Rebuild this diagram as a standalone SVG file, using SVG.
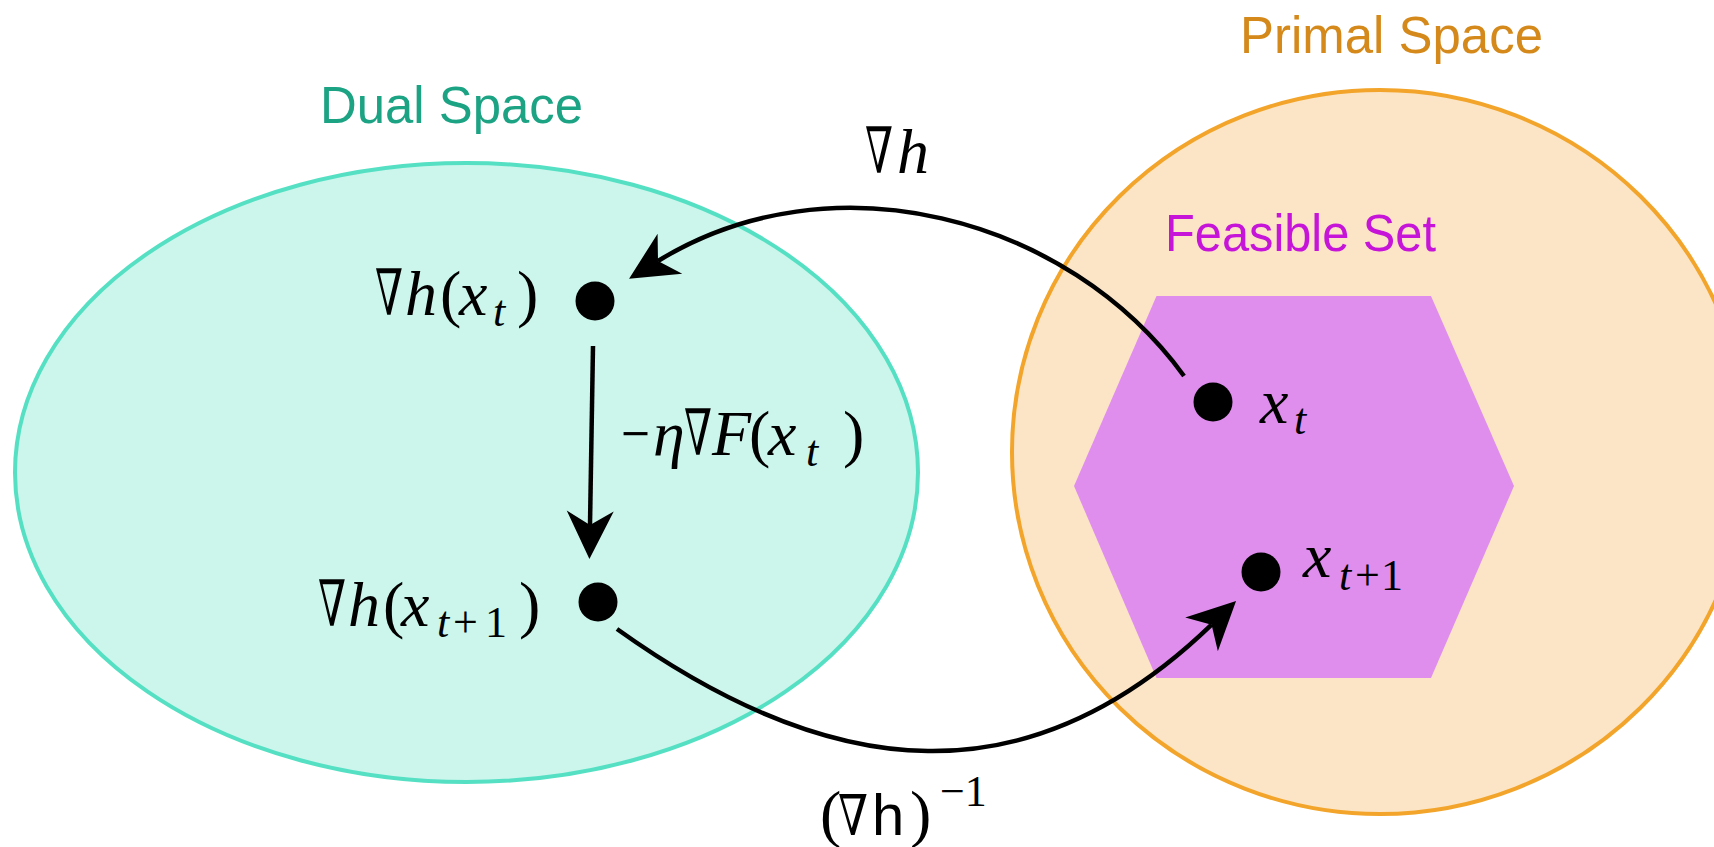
<svg xmlns="http://www.w3.org/2000/svg" width="1714" height="847" viewBox="0 0 1714 847">
<style>
.sans{font-family:"Liberation Sans","DejaVu Sans",sans-serif;font-size:52px}
.m{font-family:"Liberation Serif","DejaVu Serif",serif;font-size:64px;fill:#000}
.i{font-style:italic}
.sub{font-size:44px}
.dot{fill:#000}
.conn{fill:none;stroke:#000;stroke-width:4.5}
</style>
<defs>
<marker id="ah" markerUnits="userSpaceOnUse" markerWidth="60" markerHeight="60" viewBox="-20 -30 60 60" refX="0" refY="0" orient="auto" overflow="visible">
<path d="M34,0 L-14,-23.5 L0,0 L-14,23.5 Z" fill="#000"/>
</marker>
</defs>
<rect width="1714" height="847" fill="#fff"/>
<g id="dual-space">
<ellipse cx="466.5" cy="472.5" rx="451.5" ry="309.5" fill="#CCF6EC" stroke="#55E0C4" stroke-width="4"/>
<text class="sans" x="320" y="123" fill="#1BA384" textLength="263" lengthAdjust="spacingAndGlyphs">Dual Space</text>
</g>
<g id="primal-space">
<ellipse cx="1380" cy="452" rx="368" ry="362" fill="#FCE5C6" stroke="#F2A52A" stroke-width="4"/>
<text class="sans" x="1240" y="53" fill="#D4891A" textLength="303" lengthAdjust="spacingAndGlyphs">Primal Space</text>
</g>
<g id="feasible-set">
<polygon points="1156.5,296 1431,296 1514,486 1431,678 1156.5,678 1074,486" fill="#E08EEE"/>
<text class="sans" x="1165" y="251" fill="#C614D9" textLength="271" lengthAdjust="spacingAndGlyphs">Feasible Set</text>
</g>
<g id="node-grad-xt">
<circle class="dot" cx="595" cy="301" r="19.5"/>
<text class="m" x="375" y="315" textLength="28" lengthAdjust="spacingAndGlyphs">∇</text>
<text class="m" y="315"><tspan class="i" x="405">h</tspan><tspan x="440">(</tspan><tspan class="i" x="459">x</tspan><tspan class="i sub" x="493" y="326">t</tspan><tspan x="517" y="315">)</tspan></text>
</g>
<g id="node-grad-xt1">
<circle class="dot" cx="598" cy="602" r="19.5"/>
<text class="m" x="318" y="626" textLength="28" lengthAdjust="spacingAndGlyphs">∇</text>
<text class="m" y="626"><tspan class="i" x="348">h</tspan><tspan x="383">(</tspan><tspan class="i" x="401">x</tspan><tspan class="i sub" x="437" y="637">t</tspan><tspan class="sub" x="453" y="637">+</tspan><tspan class="sub" x="485" y="637">1</tspan><tspan x="519" y="626">)</tspan></text>
</g>
<g id="node-xt">
<circle class="dot" cx="1213" cy="402" r="19.5"/>
<text class="m" y="423"><tspan class="i" x="1260">x</tspan><tspan class="i sub" x="1294" y="434">t</tspan></text>
</g>
<g id="node-xt1">
<circle class="dot" cx="1261" cy="572" r="19.5"/>
<text class="m" y="577"><tspan class="i" x="1303">x</tspan><tspan class="i sub" x="1339" y="590">t</tspan><tspan class="sub" x="1355" y="590">+</tspan><tspan class="sub" x="1381" y="590">1</tspan></text>
</g>
<g id="connectors">
<path class="conn" d="M1184,376 C1067,215 830,155 658,261" marker-end="url(#ah)"/>
<path class="conn" d="M593,346 L590,525" marker-end="url(#ah)"/>
<path class="conn" d="M617,629 C835,785 1030,800 1211.6,624.7" marker-end="url(#ah)"/>
<text class="m" x="865" y="173" textLength="28" lengthAdjust="spacingAndGlyphs">∇</text>
<text class="m i" x="897" y="173">h</text>
<text class="m" x="621" y="455" textLength="29" lengthAdjust="spacingAndGlyphs">−</text>
<text class="m" y="455"><tspan class="i" x="653">η</tspan><tspan class="i" x="712">F</tspan><tspan x="749">(</tspan><tspan class="i" x="768">x</tspan><tspan class="i sub" x="806" y="466">t</tspan><tspan x="843" y="455">)</tspan></text>
<text class="m" x="684" y="455" textLength="28" lengthAdjust="spacingAndGlyphs">∇</text>
<text class="m" y="835"><tspan x="820">(</tspan><tspan x="872" style="font-family:'Liberation Sans','DejaVu Sans',sans-serif;font-size:58px">h</tspan><tspan x="910">)</tspan><tspan class="sub" x="940" y="806">−1</tspan></text>
<text class="m" x="838" y="835" textLength="30" lengthAdjust="spacingAndGlyphs" style="font-size:56px">∇</text>
</g>
</svg>
